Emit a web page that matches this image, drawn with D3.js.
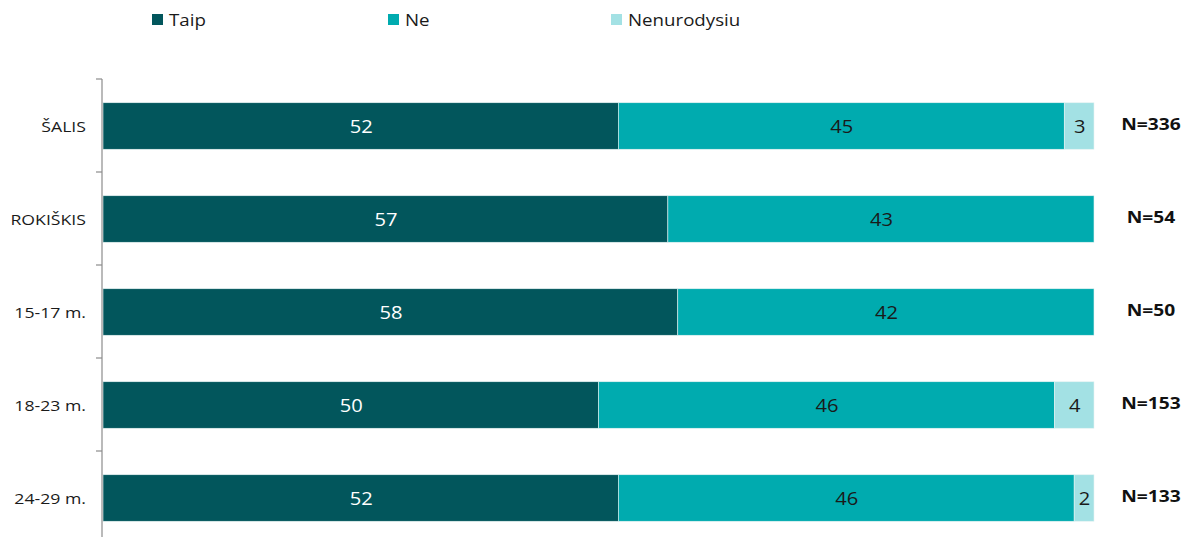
<!DOCTYPE html>
<html><head><meta charset="utf-8">
<script src="https://cdn.jsdelivr.net/npm/d3@7"></script>
<style>body{margin:0;background:#fff;} svg{display:block;font-family:"Open Sans","Noto Sans",sans-serif;}</style>
</head><body>
<svg id="c" width="1184" height="537"></svg>
<script>
const categories = ["ŠALIS", "ROKIŠKIS", "15-17 m.", "18-23 m.", "24-29 m."];
const seriesNames = ["Taip", "Ne", "Nenurodysiu"];
const taip = [52, 57, 58, 50, 52];
const ne = [45, 43, 42, 46, 46];
const nenurodysiu = [3, 0, 0, 4, 2];
const nLabels = ["N=336", "N=54", "N=50", "N=153", "N=133"];
const colors = ["#02565c", "#00abaf", "#a3e1e4"];
const labelColors = ["#ffffff", "#1a1a1a", "#1a1a1a"];

const svg = d3.select("#c");
const x = d3.scaleLinear().domain([0, 100]).range([103, 1094]);
const y = d3.scaleBand().domain(categories).range([79.5, 544.5]).paddingInner(0.5).paddingOuter(0.25);

const rows = categories.map((c, i) => ({cat: c, Taip: taip[i], Ne: ne[i], Nenurodysiu: nenurodysiu[i]}));
const stacked = d3.stack().keys(seriesNames)(rows);

const tr = (tx, ty, sx) => `translate(${tx},${ty}) scale(${sx},1)`;

stacked.forEach((s, si) => {
  const g = svg.append("g");
  s.forEach(d => {
    const v = d[1] - d[0];
    if (v <= 0) return;
    g.append("rect")
      .attr("x", x(d[0])).attr("width", x(d[1]) - x(d[0]))
      .attr("y", y(d.data.cat)).attr("height", y.bandwidth())
      .attr("fill", colors[si]).attr("stroke", "#e6f2f2").attr("stroke-width", 0.6);
    g.append("text")
      .attr("transform", tr((x(d[0]) + x(d[1])) / 2 + 0.5, y(d.data.cat) + y.bandwidth() / 2 + 7, 1.15))
      .attr("text-anchor", "middle").attr("font-size", 17.5)
      .attr("fill", labelColors[si]).text(v);
  });
});

// axis
const axG = svg.append("g").attr("transform", "translate(102,0)");
axG.append("line").attr("x1", 0).attr("x2", 0).attr("y1", 79).attr("y2", 537).attr("stroke", "#8c8c8c").attr("stroke-width", 1.2);
const step = y.step();
d3.range(6).forEach(i => {
  const ty = 79 + i * step;
  axG.append("line").attr("x1", -6).attr("x2", 0).attr("y1", ty).attr("y2", ty).attr("stroke", "#8c8c8c").attr("stroke-width", 1.2);
});

// category labels
svg.append("g").selectAll("text").data(categories).join("text")
  .attr("transform", d => tr(86, y(d) + y.bandwidth() / 2 + 5.5, 1.22))
  .attr("text-anchor", "end").attr("font-size", 14.5)
  .attr("fill", "#1a1a1a").text(d => d);

// N labels
svg.append("g").selectAll("text").data(categories).join("text")
  .attr("transform", d => tr(1151, y(d) + y.bandwidth() / 2 + 4, 1.24))
  .attr("text-anchor", "middle").attr("font-size", 15.5).attr("font-weight", "bold")
  .attr("fill", "#111").text((d, i) => nLabels[i]);

// legend
const legX = [152, 388, 611];
const lg = svg.append("g");
seriesNames.forEach((n, i) => {
  lg.append("rect").attr("x", legX[i]).attr("y", 14).attr("width", 11).attr("height", 11).attr("fill", colors[i]);
  lg.append("text").attr("transform", tr(legX[i] + 17, 26, 1.1)).attr("font-size", 17)
    .attr("fill", "#1a1a1a").text(n);
});
</script>
</body></html>
